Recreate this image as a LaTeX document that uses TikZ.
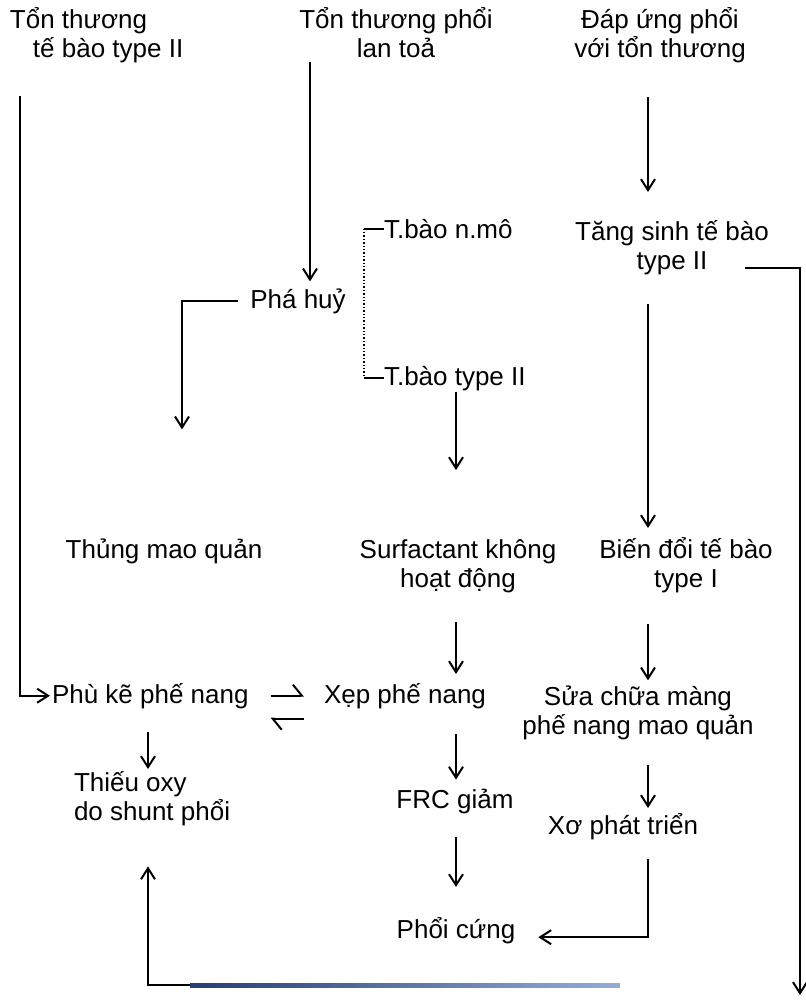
\documentclass[tikz,border=0pt]{standalone}
\usepackage{fontspec}
\setmainfont{Liberation Sans}
\usetikzlibrary{arrows.meta}
\definecolor{scannavy}{RGB}{40,60,120}
\definecolor{scanblue}{RGB}{150,172,215}

\begin{document}
\begin{tikzpicture}[x=0.5pt,y=-0.5pt,
    every node/.style={inner sep=0pt, outer sep=0pt, font=\fontsize{13}{14.5}\selectfont},
    txt/.style={anchor=base, align=center},
    ln/.style={line width=1pt},
    arr/.style={ln, -{Straight Barb[length=5.5pt,width=7pt]}},
    harp/.style={ln, -{Straight Barb[left,length=4.5pt,width=11pt]}}]
    \useasboundingbox (0,0) rectangle (805,1002);

    % columns for the vertical connectors
    \coordinate (x1) at (20,0);
    \coordinate (x2) at (148,0);
    \coordinate (x3) at (182,0);
    \coordinate (x4) at (310,0);
    \coordinate (x5) at (456,0);
    \coordinate (x6) at (648,0);

    % Top row: the three starting points (base = last line)
    \node[txt, anchor=base west, align=left] (inj2) at (10,57) {Tổn thương\\\hspace*{11.5pt}tế bào type II};
    \node[txt] (lung) at (396,57) {Tổn thương phổi\\lan toả};
    \node[txt] (resp) at (660,57) {Đáp ứng phổi\\với tổn thương};

    % Middle rows
    \node[txt] (prolif) at (672,269) {Tăng sinh tế bào\\type II};
    \node[txt] (destroy) at (298,308) {Phá huỷ};
    \node[txt, anchor=base west] (nmo) at (384,238) {T.bào n.mô};
    \node[txt, anchor=base west] (t2) at (384,385) {T.bào type II};
    \node[txt] (cap) at (164,558) {Thủng mao quản};
    \node[txt] (surf) at (458,587) {Surfactant không\\hoạt động};
    \node[txt] (trans) at (686,587) {Biến đổi tế bào\\type I};
    \node[txt, anchor=base west] (edema) at (52,703) {Phù kẽ phế nang};
    \node[txt] (collapse) at (405,703) {Xẹp phế nang};
    \node[txt] (repair) at (638,734) {Sửa chữa màng\\phế nang mao quản};

    % Bottom rows
    \node[txt, anchor=base west, align=left] (hypox) at (74,820) {Thiếu oxy\\do shunt phổi};
    \node[txt] (frc) at (455,808) {FRC giảm};
    \node[txt] (fib) at (623,834) {Xơ phát triển};
    \node[txt] (stiff) at (456,938) {Phổi cứng};

    % free ends
    \coordinate (r1) at (745,268);
    \coordinate (r2) at (800,995);
    \coordinate (bt) at (620,985);

    % Connectors
    \draw[arr, shorten <=17pt, shorten >=1pt] (inj2.south -| x1) |- (edema.west);
    \draw[arr, shorten <=2.5pt, shorten >=3.5pt] (lung.south -| x4) -- (destroy.north -| x4);
    \draw[arr, shorten <=17.5pt, shorten >=14pt] (resp.south -| x6) -- (prolif.north -| x6);
    \draw[arr, shorten <=6pt, shorten >=54.5pt] (destroy.west) -| (cap.north -| x3);
    \draw[ln] (nmo.west) -- ++(-20,0) coordinate (b1);
    \draw[ln] (t2.west) -- ++(-20,0) coordinate (b2);
    \draw[line width=0.7pt, densely dotted] (b1) -- (b2);
    \draw[arr, shorten <=1pt, shorten >=34.5pt] (t2.south -| x5) -- (surf.north -| x5);
    \draw[arr, shorten <=15pt, shorten >=4.5pt] (prolif.south -| x6) -- (trans.north -| x6);
    \draw[arr] (r1) -| (r2);
    \draw[arr, shorten <=15pt, shorten >=4.5pt] (surf.south -| x5) -- (collapse.north -| x5);
    \draw[arr, shorten <=16pt, shorten >=2.5pt] (trans.south -| x6) -- (repair.north -| x6);
    \draw[harp, shorten <=11pt, shorten >=10pt] (edema.east) -- (collapse.west);
    \draw[harp, shorten <=10pt, shorten >=11pt] ([yshift=-11.5pt]collapse.west) -- ([yshift=-11.5pt]edema.east);
    \draw[arr, shorten <=12pt, shorten >=1pt] (edema.south -| x2) -- (hypox.north -| x2);
    \draw[arr, shorten <=13pt, shorten >=4.5pt] (collapse.south -| x5) -- (frc.north -| x5);
    \draw[arr, shorten <=13pt, shorten >=2.5pt] (repair.south -| x6) -- (fib.north -| x6);
    \draw[arr, shorten <=12pt, shorten >=15pt] (frc.south -| x5) -- (stiff.north -| x5);
    \draw[arr, shorten <=10pt, shorten >=11.5pt] (fib.south -| x6) |- ([yshift=-3.5pt]stiff.east);
    \draw[arr, shorten >=20.5pt] (bt) -| (hypox.south -| x2);
    % bluish tint of the bottom line
    \shade[left color=scannavy, right color=scanblue] (190,983) rectangle (bt |- 0,987);
\end{tikzpicture}
\end{document}
